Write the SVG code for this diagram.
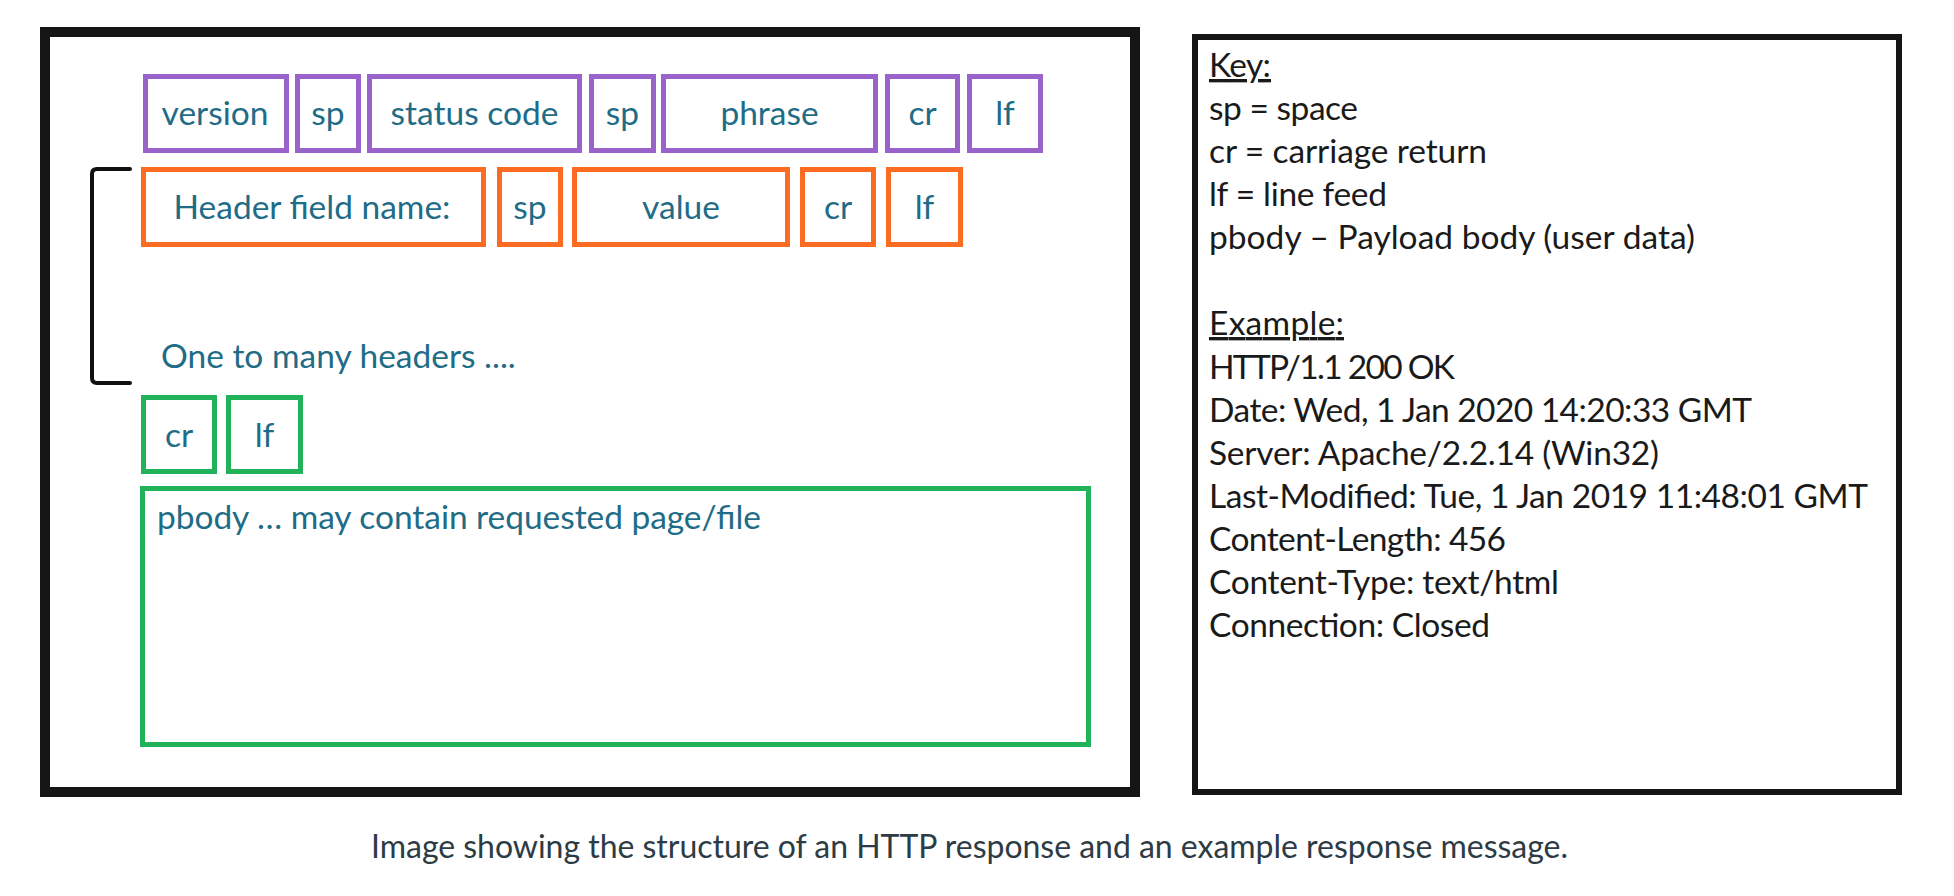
<svg xmlns="http://www.w3.org/2000/svg" width="1954" height="896" viewBox="0 0 1954 896">
<style>
.bg{fill:#ffffff}
.frame{fill:none;stroke:#151515;stroke-width:10}
.key{fill:none;stroke:#151515;stroke-width:6}
.pu{fill:none;stroke:#9a63cc;stroke-width:5}
.or{fill:none;stroke:#fb6b22;stroke-width:5}
.gr{fill:none;stroke:#22b25a;stroke-width:5}
.t{font-family:Lato,"Liberation Sans",sans-serif;font-size:33.5px;fill:#1f6c87}
.c{text-anchor:middle}
.k{font-family:Lato,"Liberation Sans",sans-serif;font-size:33.5px;fill:#1a1a1a}
.u{text-decoration:underline}
.cap{font-family:Lato,"Liberation Sans",sans-serif;font-size:32px;fill:#2d3b45}
.br{fill:none;stroke:#111;stroke-width:4;stroke-linecap:round;stroke-linejoin:round}
</style>
<rect class="bg" x="0" y="0" width="1954" height="896"/>
<g id="structure-frame"><rect class="frame" x="45" y="32" width="1090" height="760"/></g>
<g id="status-line">
<g id="n-version"><rect class="pu" x="145.5" y="76.5" width="141" height="74"/><text class="t c" x="215" y="125">version</text></g>
<g id="n-sp1"><rect class="pu" x="297.5" y="76.5" width="61" height="74"/><text class="t c" x="328" y="125">sp</text></g>
<g id="n-status"><rect class="pu" x="369.5" y="76.5" width="210" height="74"/><text class="t c" x="474.5" y="125">status code</text></g>
<g id="n-sp2"><rect class="pu" x="591.5" y="76.5" width="62" height="74"/><text class="t c" x="622.5" y="125">sp</text></g>
<g id="n-phrase"><rect class="pu" x="663.5" y="76.5" width="212" height="74"/><text class="t c" x="769.5" y="125">phrase</text></g>
<g id="n-cr1"><rect class="pu" x="887.5" y="76.5" width="70" height="74"/><text class="t c" x="922.5" y="125">cr</text></g>
<g id="n-lf1"><rect class="pu" x="969.5" y="76.5" width="71" height="74"/><text class="t c" x="1005" y="125">lf</text></g>
</g>
<g id="header-line">
<g id="n-hname"><rect class="or" x="143.5" y="169.5" width="340" height="75"/><text class="t c" x="312" y="218.5">Header field name:</text></g>
<g id="n-sp3"><rect class="or" x="499.5" y="169.5" width="61" height="75"/><text class="t c" x="530" y="218.5">sp</text></g>
<g id="n-value"><rect class="or" x="574.5" y="169.5" width="213" height="75"/><text class="t c" x="681" y="218.5">value</text></g>
<g id="n-cr2"><rect class="or" x="802.5" y="169.5" width="71" height="75"/><text class="t c" x="838" y="218.5">cr</text></g>
<g id="n-lf2"><rect class="or" x="888.5" y="169.5" width="72" height="75"/><text class="t c" x="924.5" y="218.5">lf</text></g>
</g>
<g id="headers-bracket">
<path class="br" d="M130,169 L97,169 Q92,169 92,174 L92,378 Q92,383 97,383 L130,383"/>
<text class="t" x="161" y="368">One to many headers ....</text>
</g>
<g id="blank-line">
<g id="n-cr3"><rect class="gr" x="143.5" y="397.5" width="71" height="74"/><text class="t c" x="179" y="447">cr</text></g>
<g id="n-lf3"><rect class="gr" x="228.5" y="397.5" width="72" height="74"/><text class="t c" x="264.5" y="447">lf</text></g>
</g>
<g id="n-pbody"><rect class="gr" x="142.5" y="488.5" width="946" height="256"/><text class="t" x="157" y="529" textLength="604">pbody … may contain requested page/file</text></g>
<g id="key-box">
<rect class="key" x="1195" y="37" width="704" height="755"/>
<text class="k u" x="1209" y="77" textLength="62">Key:</text>
<text class="k" x="1209" y="120" textLength="149">sp = space</text>
<text class="k" x="1209" y="163" textLength="278">cr = carriage return</text>
<text class="k" x="1209" y="206" textLength="178">lf = line feed</text>
<text class="k" x="1209" y="249" textLength="486">pbody – Payload body (user data)</text>
<text class="k u" x="1209" y="335" textLength="135">Example:</text>
<text class="k" x="1209" y="379" textLength="246">HTTP/1.1 200 OK</text>
<text class="k" x="1209" y="422" textLength="543">Date: Wed, 1 Jan 2020 14:20:33 GMT</text>
<text class="k" x="1209" y="465" textLength="450">Server: Apache/2.2.14 (Win32)</text>
<text class="k" x="1209" y="508" textLength="659">Last-Modified: Tue, 1 Jan 2019 11:48:01 GMT</text>
<text class="k" x="1209" y="551" textLength="297">Content-Length: 456</text>
<text class="k" x="1209" y="594" textLength="350">Content-Type: text/html</text>
<text class="k" x="1209" y="637" textLength="281">Connection: Closed</text>
</g>
<g id="connectors"></g>
<text class="cap" x="371" y="858" textLength="1197">Image showing the structure of an HTTP response and an example response message.</text>
</svg>
